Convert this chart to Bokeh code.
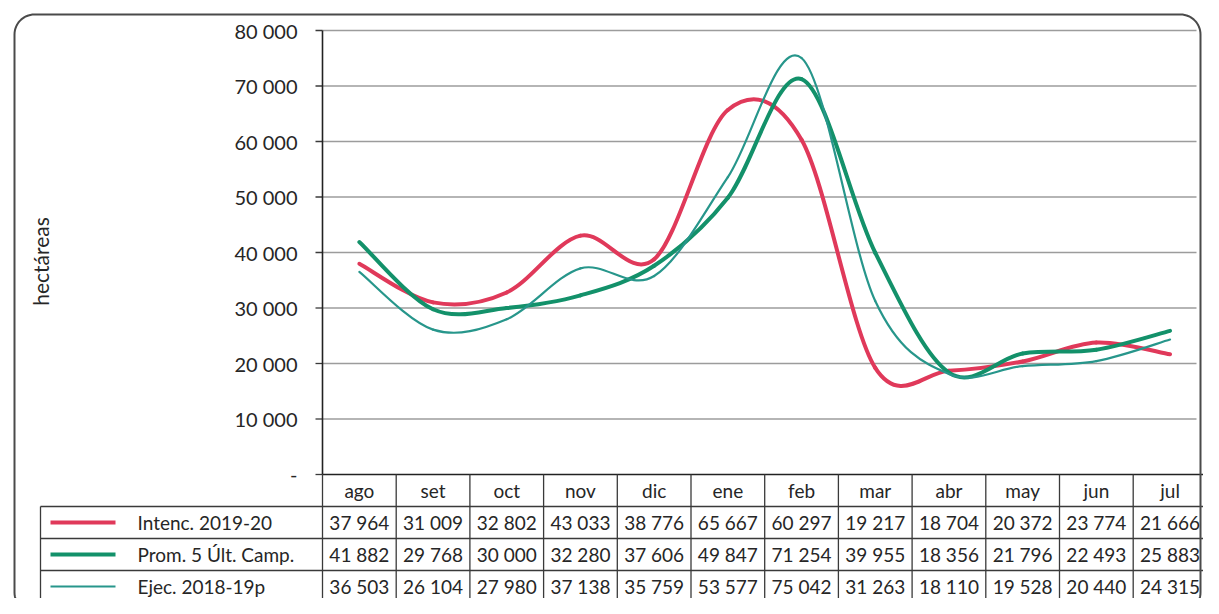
import numpy as np
from bokeh.plotting import figure
from bokeh.models import Range1d
from bokeh.embed import file_html
from bokeh.resources import INLINE
from bokeh.core.properties import value

# ---------------- data ----------------
months = ["ago", "set", "oct", "nov", "dic", "ene", "feb", "mar", "abr", "may", "jun", "jul"]
intenc_2019_20 = [37964, 31009, 32802, 43033, 38776, 65667, 60297, 19217, 18704, 20372, 23774, 21666]
prom_5_ult = [41882, 29768, 30000, 32280, 37606, 49847, 71254, 39955, 18356, 21796, 22493, 25883]
ejec_2018_19 = [36503, 26104, 27980, 37138, 35759, 53577, 75042, 31263, 18110, 19528, 20440, 24315]
series_names = ["Intenc. 2019-20", "Prom. 5 Últ. Camp.", "Ejec. 2018-19p"]
y_ticks = [0, 10000, 20000, 30000, 40000, 50000, 60000, 70000, 80000]
y_label = "hectáreas"

# ---------------- styles / layout constants ----------------
colors = ["#e0395a", "#13916a", "#27968b"]
widths = [4, 4, 2.2]
FONT = "Lato"
TXT = "#262626"
LINE = "#3a3a3a"

W, H = 1203, 598               # canvas size (picture x 0..1203, y 0..598)
AX_X = 322                     # x of value axis
COL = 73.7                     # px per category column
Y80, Y0 = 30, 474              # y of 80000 and 0
ROW = 32                       # table row height, px
ppu = (Y0 - Y80) / 80000.0


def X(px):   # canvas px -> category units
    return -0.5 + (px - AX_X) / COL


def Y(py):   # canvas px (down) -> value units
    return (Y0 - py) / ppu


p = figure(width=W, height=H, output_backend="svg", toolbar_location=None,
           x_axis_type=None, y_axis_type=None,
           x_range=Range1d(X(0), X(W)),
           y_range=Range1d(Y(H), Y(0)),
           min_border_left=0, min_border_right=0, min_border_top=0, min_border_bottom=0)
p.outline_line_color = None
p.grid.visible = False

n = len(months)
xs = list(range(n))

# ---------------- grid, value axis ----------------
grid_vals = y_ticks[1:]
p.segment(x0=[-0.5] * len(grid_vals), y0=grid_vals, x1=[X(1196)] * len(grid_vals), y1=grid_vals,
          line_color="#9c9c9c", line_width=1.3)
p.segment(x0=[X(AX_X - 7)] * len(y_ticks), y0=y_ticks, x1=[-0.5] * len(y_ticks), y1=y_ticks,
          line_color=LINE, line_width=1.3)
p.segment(x0=[-0.5], y0=[0], x1=[-0.5], y1=[y_ticks[-1]], line_color="#222222", line_width=1.6)
tick_labels = ["-" if t == 0 else f"{t:,}".replace(",", " ") for t in y_ticks]
p.text(x=[X(AX_X - 25)] * len(y_ticks), y=y_ticks, text=tick_labels,
       text_font=value(FONT), text_font_size=value("20px"), text_color=TXT,
       text_align="right", text_baseline="middle")
p.text(x=[X(40)], y=[Y(261)], text=[y_label], angle=np.pi / 2,
       text_font=value(FONT), text_font_size=value("21px"), text_color=TXT,
       text_align="center", text_baseline="middle")


# ---------------- smoothed series ----------------
def smooth(vals):
    y = np.asarray(vals, dtype=float)
    x = np.arange(len(y), dtype=float)
    m = len(y)
    xp = np.concatenate([[x[0]], x, [x[-1]]])
    yp = np.concatenate([[y[0]], y, [y[-1]]])
    cx0 = x[:-1] + (xp[2:m + 1] - xp[0:m - 1]) / 6.0
    cy0 = y[:-1] + (yp[2:m + 1] - yp[0:m - 1]) / 6.0
    cx1 = x[1:] - (xp[3:m + 2] - xp[1:m]) / 6.0
    cy1 = y[1:] - (yp[3:m + 2] - yp[1:m]) / 6.0
    return dict(x0=x[:-1], y0=y[:-1], x1=x[1:], y1=y[1:], cx0=cx0, cy0=cy0, cx1=cx1, cy1=cy1)


all_series = [intenc_2019_20, prom_5_ult, ejec_2018_19]
for vals, c, w in zip(all_series, colors, widths):
    s = smooth(vals)
    p.bezier(x0=s["x0"], y0=s["y0"], x1=s["x1"], y1=s["y1"],
             cx0=s["cx0"], cy0=s["cy0"], cx1=s["cx1"], cy1=s["cy1"],
             line_color=c, line_width=w, line_cap="round")

# ---------------- data table ----------------
row_top = [Y(Y0 + k * ROW) for k in range(5)]
row_mid = [Y(Y0 + (k + 0.5) * ROW) for k in range(4)]
x_leg = X(40)
x_right = X(W + 20)
y_low = Y(H + 10)

p.segment(x0=[-0.5], y0=[row_top[0]], x1=[x_right], y1=[row_top[0]], line_color="#222222", line_width=1.6)
p.segment(x0=[x_leg] * 3, y0=row_top[1:4], x1=[x_right] * 3, y1=row_top[1:4],
          line_color=LINE, line_width=1.3)
vx = [k - 0.5 for k in range(n + 1)]
p.segment(x0=vx, y0=[row_top[0]] * len(vx), x1=vx, y1=[y_low] * len(vx),
          line_color=LINE, line_width=1.3)
p.segment(x0=[x_leg], y0=[row_top[1]], x1=[x_leg], y1=[y_low], line_color=LINE, line_width=1.3)

p.text(x=xs, y=[row_mid[0]] * n, text=months,
       text_font=value(FONT), text_font_size=value("19px"), text_color=TXT,
       text_align="center", text_baseline="middle")
for r, vals in enumerate(all_series, start=1):
    p.text(x=xs, y=[row_mid[r]] * n, text=[f"{v:,}".replace(",", " ") for v in vals],
           text_font=value(FONT), text_font_size=value("19px"), text_color=TXT,
           text_align="center", text_baseline="middle")
p.segment(x0=[X(50)] * 3, y0=row_mid[1:], x1=[X(115)] * 3, y1=row_mid[1:],
          line_color=colors, line_width=widths)
p.text(x=[X(137)] * 3, y=row_mid[1:], text=series_names,
       text_font=value(FONT), text_font_size=value("19px"), text_color=TXT,
       text_align="left", text_baseline="middle")

# ---------------- rounded outer border ----------------
L, T, R, B, RAD = 14, 14, 1200, 612, 20


def arc(cx, cy, a0, a1):
    a = np.linspace(a0, a1, 16)
    return cx + RAD * np.cos(a), cy - RAD * np.sin(a)


pts_x, pts_y = [], []
for cx, cy, a0, a1 in [(R - RAD, T + RAD, 0, np.pi / 2), (L + RAD, T + RAD, np.pi / 2, np.pi),
                       (L + RAD, B - RAD, np.pi, 1.5 * np.pi), (R - RAD, B - RAD, 1.5 * np.pi, 2 * np.pi)]:
    ax, ay = arc(cx, cy, a0, a1)
    pts_x.extend(ax)
    pts_y.extend(ay)
pts_x.append(pts_x[0])
pts_y.append(pts_y[0])
p.line(x=[X(v) for v in pts_x], y=[Y(v) for v in pts_y], line_color="#4a4a4a", line_width=2)

open("out.html", "w").write(file_html(p, INLINE))
